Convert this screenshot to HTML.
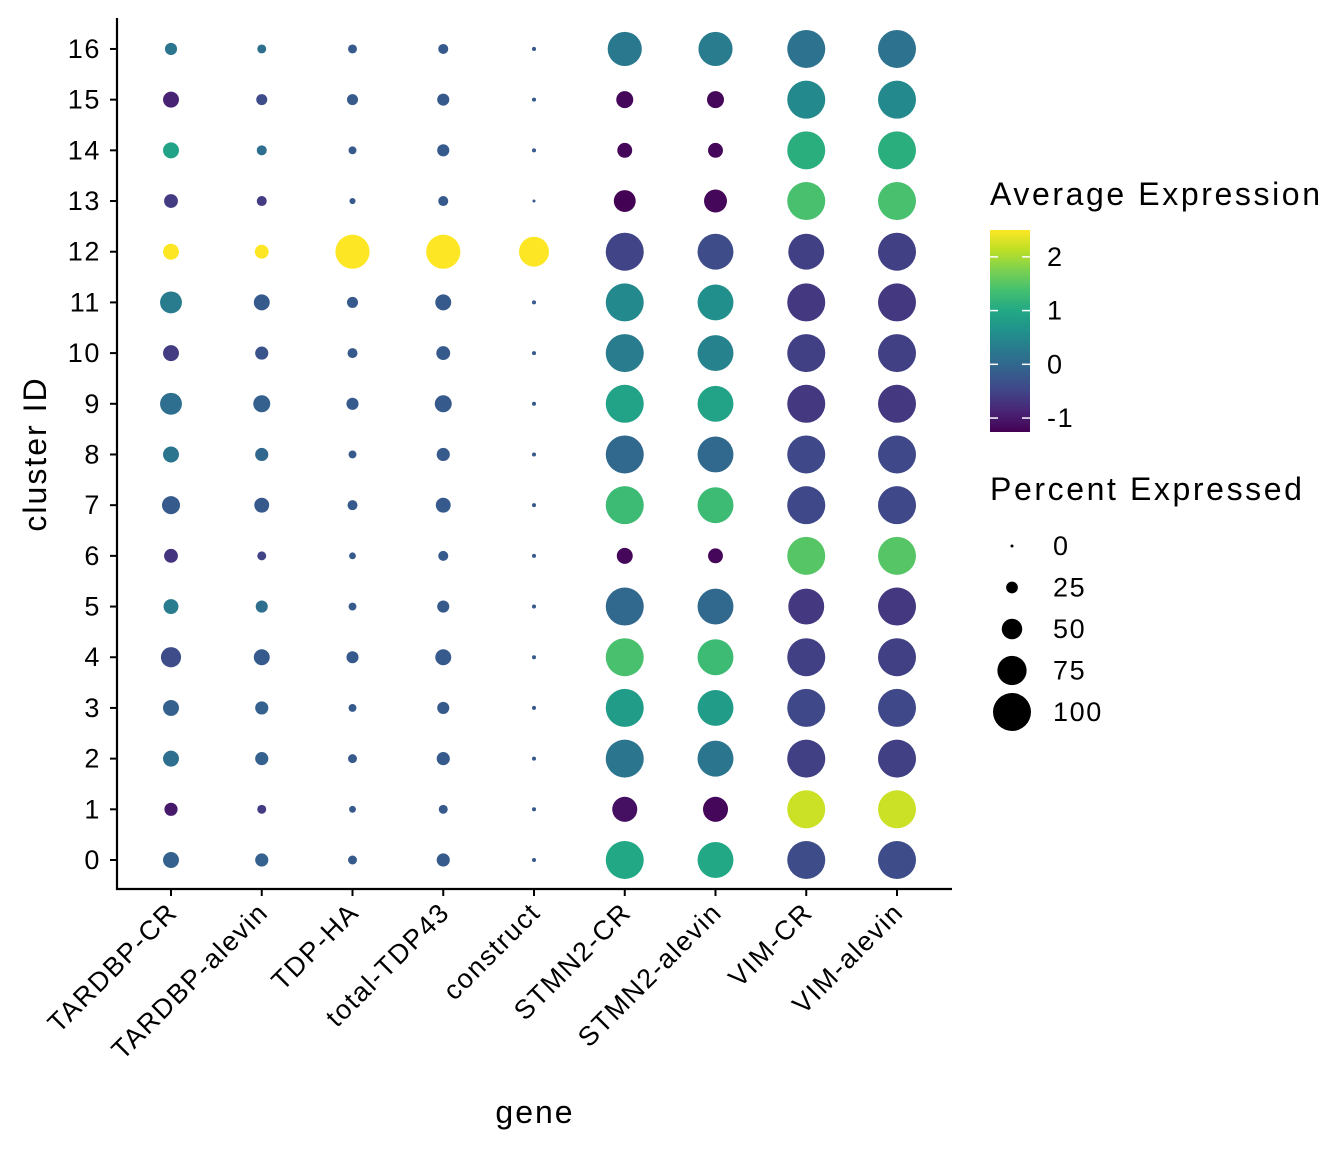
<!DOCTYPE html>
<html><head><meta charset="utf-8"><style>
body{margin:0;background:#fff;}
svg text{font-family:"Liberation Sans",Arial,sans-serif;}
</style></head><body>
<svg id="chart" width="1344" height="1152" xmlns="http://www.w3.org/2000/svg">
<defs><linearGradient id="vir" x1="0" y1="1" x2="0" y2="0">
<stop offset="0" stop-color="#440154"/><stop offset="0.1" stop-color="#482475"/><stop offset="0.2" stop-color="#414487"/><stop offset="0.3" stop-color="#355f8d"/><stop offset="0.4" stop-color="#2a788e"/><stop offset="0.5" stop-color="#21918c"/><stop offset="0.6" stop-color="#22a884"/><stop offset="0.7" stop-color="#44bf70"/><stop offset="0.8" stop-color="#7ad151"/><stop offset="0.9" stop-color="#bddf26"/><stop offset="1" stop-color="#fde725"/></linearGradient></defs>
<g id="plot"></g>
</svg>
<script>
const genes=["TARDBP-CR","TARDBP-alevin","TDP-HA","total-TDP43","construct","STMN2-CR","STMN2-alevin","VIM-CR","VIM-alevin"];
const clusters=["0","1","2","3","4","5","6","7","8","9","10","11","12","13","14","15","16"];
// percent expressed, per gene, cluster 0..16
const pctTARDBPCR=[37,29,37,37,49,34,31,43,37,54,37,54,37,31,37,37,26];
const pctTARDBPal=[29,17,29,29,37,26,17,34,29,40,29,37,31,20,20,23,17];
const pctTDPHA=[17,11,17,14,26,14,11,20,14,26,20,23,89,9,14,23,17];
const pctTotal=[29,17,29,26,37,26,20,34,29,40,31,37,89,20,26,26,20];
const pctConstruct=[3,3,3,3,3,3,3,3,3,3,3,3,77,0,3,3,3];
const pctSTMN2CR=[100,63,100,100,100,100,37,100,100,100,100,100,100,54,34,40,89];
const pctSTMN2al=[94,63,94,94,94,94,34,94,94,94,94,94,94,57,34,40,89];
const pctVIMCR=[100,100,100,100,100,94,100,100,100,100,100,100,94,100,100,100,100];
const pctVIMal=[100,100,100,100,100,100,100,100,100,100,100,100,100,100,100,100,100];
// average expression
const expTARDBPCR=[-0.1,-1.0,0.1,-0.1,-0.4,0.3,-0.7,-0.2,0.2,0.1,-0.6,0.3,2.5,-0.6,0.9,-0.9,0.2];
const expTARDBPal=[-0.1,-0.6,-0.1,-0.1,-0.2,0.1,-0.5,-0.2,0,-0.1,-0.3,-0.2,2.5,-0.6,0.1,-0.4,0.1];
const expTDPHA=[-0.2,-0.2,-0.2,-0.2,-0.2,-0.2,-0.2,-0.2,-0.2,-0.2,-0.2,-0.2,2.5,-0.2,-0.2,-0.2,-0.2];
const expTotal=[-0.2,-0.2,-0.2,-0.2,-0.2,-0.2,-0.2,-0.2,-0.2,-0.2,-0.2,-0.2,2.5,-0.2,-0.2,-0.2,-0.2];
const expConstruct=[-0.2,-0.2,-0.2,-0.2,-0.2,-0.2,-0.2,-0.2,-0.2,-0.2,-0.2,-0.2,2.5,-0.2,-0.2,-0.2,-0.2];
const expSTMN2CR=[1.0,-1.1,0.2,0.8,1.4,0,-1.2,1.3,0,0.9,0.3,0.5,-0.5,-1.25,-1.2,-1.2,0.25];
const expSTMN2al=[1.0,-1.2,0.2,0.8,1.3,0,-1.2,1.3,0,0.9,0.4,0.6,-0.4,-1.2,-1.2,-1.2,0.3];
const expVIMCR=[-0.4,2.2,-0.55,-0.45,-0.55,-0.65,1.5,-0.45,-0.45,-0.65,-0.55,-0.65,-0.55,1.4,1.1,0.5,0.15];
const expVIMal=[-0.4,2.2,-0.55,-0.45,-0.55,-0.65,1.5,-0.45,-0.45,-0.65,-0.55,-0.65,-0.55,1.4,1.1,0.5,0.15];
const pctAll=[pctTARDBPCR,pctTARDBPal,pctTDPHA,pctTotal,pctConstruct,pctSTMN2CR,pctSTMN2al,pctVIMCR,pctVIMal];
const expAll=[expTARDBPCR,expTARDBPal,expTDPHA,expTotal,expConstruct,expSTMN2CR,expSTMN2al,expVIMCR,expVIMal];
const colorTicks=[2,1,0,-1];
const sizeTicks=[0,25,50,75,100];
const expMin=-1.26,expMax=2.5;

const NS="http://www.w3.org/2000/svg";
const g=document.getElementById('plot');
function el(t,a,txt){const e=document.createElementNS(NS,t);for(const k in a)e.setAttribute(k,a[k]);if(txt!==undefined)e.textContent=txt;g.appendChild(e);return e;}
const xS=i=>171+i*90.75;
const yS=j=>860-j*50.69;
const rS=p=>1.5+0.175*p;
const stops=["#440154","#482475","#414487","#355f8d","#2a788e","#21918c","#22a884","#44bf70","#7ad151","#bddf26","#fde725"];
function hex(h){return [1,3,5].map(i=>parseInt(h.substr(i,2),16));}
function vir(v){let t=(v-expMin)/(expMax-expMin);t=Math.max(0,Math.min(1,t));const n=stops.length-1;const f=t*n;const i=Math.min(n-1,Math.floor(f));const u=f-i;const a=hex(stops[i]),b=hex(stops[i+1]);return `rgb(${a.map((c,k)=>Math.round(c+(b[k]-c)*u)).join(',')})`;}
const TS=27, LS=1.6;

let e=el('line',{x1:117,y1:18,x2:117,y2:890,stroke:'#000','stroke-width':2.2});

e=el('line',{x1:116,y1:889,x2:952,y2:889,stroke:'#000','stroke-width':2.2});

clusters.forEach((c,j)=>{
  const y=yS(j);
  let t=el('line',{x1:110,y1:y,x2:117,y2:y,stroke:'#000','stroke-width':2});
  
  t=el('text',{x:101,y:y+9,'text-anchor':'end','font-size':TS,'letter-spacing':LS,fill:'#000'},c);
  
});
genes.forEach((gn,i)=>{
  const x=xS(i);
  let t=el('line',{x1:x,y1:889,x2:x,y2:896,stroke:'#000','stroke-width':2});
  
  t=el('text',{x:x+8,y:914,'text-anchor':'end','font-size':TS,'letter-spacing':LS,fill:'#000',transform:`rotate(-45 ${x+8} 914)`},gn);
  
  clusters.forEach((c,j)=>{
    const d=el('circle',{cx:x,cy:yS(j),r:rS(pctAll[i][j]),fill:vir(expAll[i][j])});
    
    
  });
});
e=el('text',{x:535,y:1123,'text-anchor':'middle','font-size':32,'letter-spacing':2},'gene');

e=el('text',{x:46,y:454,'text-anchor':'middle','font-size':32,'letter-spacing':2,transform:'rotate(-90 46 454)'},'cluster ID');


e=el('text',{x:990,y:205,'font-size':32,'letter-spacing':2.6},'Average Expression');

e=el('rect',{x:990,y:230,width:40,height:202,fill:'url(#vir)'});

const cy=v=>432-(v-expMin)/(expMax-expMin)*202;
colorTicks.forEach(v=>{
  const y=cy(v);
  let t=el('line',{x1:990,y1:y,x2:998,y2:y,stroke:'#fff','stroke-width':1.5});
  
  t=el('line',{x1:1022,y1:y,x2:1030,y2:y,stroke:'#fff','stroke-width':1.5});
  
  t=el('text',{x:1047,y:y+9,'font-size':TS,'letter-spacing':LS},String(v));
  
});
e=el('text',{x:990,y:500,'font-size':32,'letter-spacing':2.6},'Percent Expressed');

sizeTicks.forEach((p,k)=>{
  const y=546+k*41.5;
  let t=el('circle',{cx:1012,cy:y,r:rS(p),fill:'#000'});
  
  t=el('text',{x:1053,y:y+9,'font-size':TS,'letter-spacing':LS},String(p));
  
});
</script>
</body></html>
